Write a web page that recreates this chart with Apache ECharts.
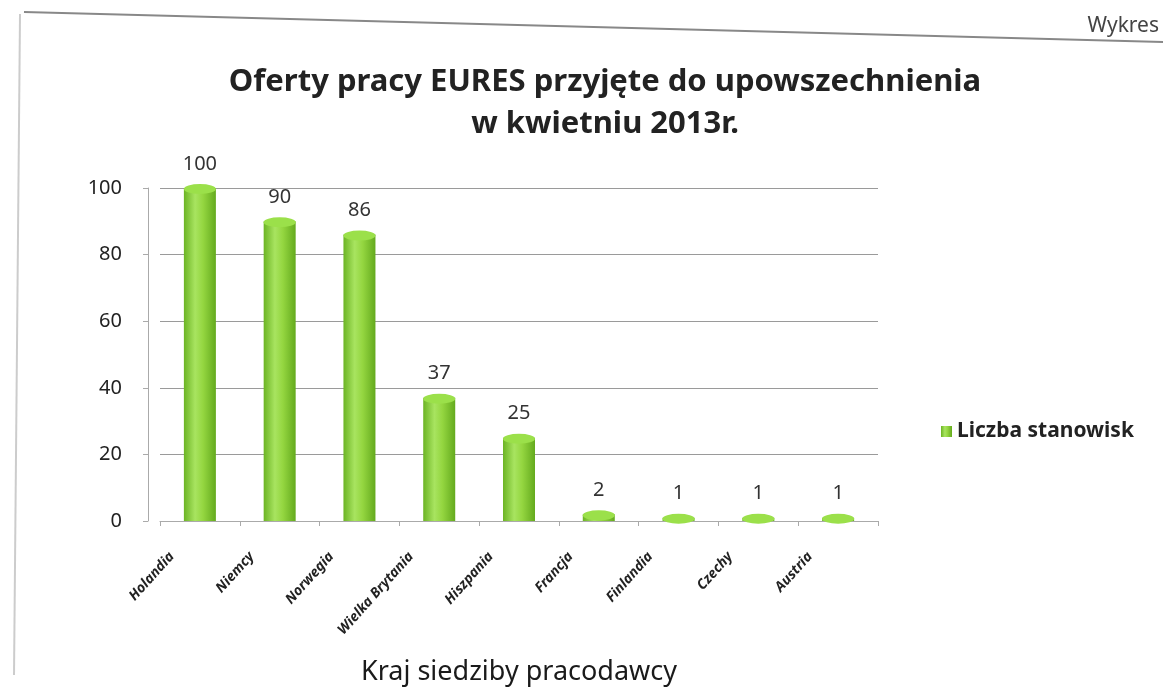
<!DOCTYPE html>
<html>
<head>
<meta charset="utf-8">
<script src="https://cdn.jsdelivr.net/npm/echarts@6/dist/echarts.min.js"></script>
<style>
  html, body { margin: 0; padding: 0; background: #fff; }
  #wykresDiv { width: 1163px; height: 700px; }
</style>
</head>
<body>
<div id="wykresDiv"></div>
<script>
// kraje i liczba stanowisk
const kraje = ["Holandia", "Niemcy", "Norwegia", "Wielka Brytania", "Hiszpania", "Francja", "Finlandia", "Czechy", "Austria"];
const stanowiska = [100, 90, 86, 37, 25, 2, 1, 1, 1];
const osY = [0, 20, 40, 60, 80, 100];

const font = "Noto Sans";
const chart = echarts.init(document.getElementById("wykresDiv"));

// walec: gradient poziomy
const walec = new echarts.graphic.LinearGradient(0, 0, 1, 0, [
  { offset: 0, color: "#6cb424" },
  { offset: 0.35, color: "#a8e460" },
  { offset: 0.6, color: "#94d640" },
  { offset: 1, color: "#64aa1e" }
]);

chart.setOption({
  title: {
    text: "Oferty pracy EURES przyjęte do upowszechnienia\nw kwietniu 2013r.",
    left: 600,
    textAlign: "center",
    top: 56,
    textStyle: {
      fontFamily: font,
      fontSize: 31,
      fontWeight: "bold",
      color: "#222",
      lineHeight: 42
    }
  },
  legend: {
    data: ["Liczba stanowisk"],
    left: 936,
    top: 416,
    icon: "rect",
    itemWidth: 11,
    itemHeight: 11,
    itemGap: 6,
    textStyle: {
      fontFamily: font,
      fontSize: 21,
      fontWeight: "bold",
      color: "#222"
    }
  },
  grid: {
    left: 160,
    right: 285,
    top: 188,
    bottom: 179
  },
  xAxis: {
    type: "category",
    data: kraje,
    name: "Kraj siedziby pracodawcy",
    nameLocation: "middle",
    nameGap: 138,
    nameTextStyle: {
      fontFamily: font,
      fontSize: 27,
      color: "#1a1a1a"
    },
    axisLine: { lineStyle: { color: "#aaa" } },
    axisTick: { show: true, lineStyle: { color: "#aaa" } },
    axisLabel: {
      rotate: 48,
      margin: 2,
      interval: 0,
      padding: [0, 42, 0, 0],
      fontFamily: font,
      fontSize: 14,
      fontWeight: "bold",
      fontStyle: "italic",
      color: "#222"
    }
  },
  yAxis: {
    type: "value",
    min: 0,
    max: 100,
    interval: 20,
    offset: 12,
    axisLine: { show: true, lineStyle: { color: "#aaa" } },
    axisTick: { show: true, lineStyle: { color: "#aaa" } },
    axisLabel: {
      margin: 26,
      fontFamily: font,
      fontSize: 20,
      color: "#222",
      formatter: v => (osY.indexOf(v) >= 0 ? v : "")
    },
    splitLine: { lineStyle: { color: "#9a9a9a", width: 1 } }
  },
  series: [
    {
      name: "Liczba stanowisk",
      type: "bar",
      barWidth: 32,
      color: "#8fd63c",
      itemStyle: { color: walec },
      label: {
        show: true,
        position: "top",
        distance: 14,
        fontFamily: font,
        fontSize: 20,
        color: "#333"
      },
      data: stanowiska
    },
    {
      // górna podstawa walca
      name: "top",
      type: "pictorialBar",
      symbol: "circle",
      symbolSize: [32, 10],
      symbolPosition: "end",
      symbolOffset: [0, -4],
      z: 3,
      itemStyle: { color: "#9be04a" },
      tooltip: { show: false },
      data: stanowiska
    }
  ],
  graphic: [
    {
      type: "text",
      right: 4,
      top: 16,
      style: {
        text: "Wykres",
        fontFamily: font,
        fontSize: 21,
        fill: "#444"
      }
    },
    {
      type: "polyline",
      shape: { points: [[24, 12], [1163, 42]] },
      style: { stroke: "#888", lineWidth: 2, fill: null }
    },
    {
      type: "polyline",
      shape: { points: [[20, 14], [14, 675]] },
      style: { stroke: "#ccc", lineWidth: 2, fill: null }
    }
  ]
});
</script>
</body>
</html>
